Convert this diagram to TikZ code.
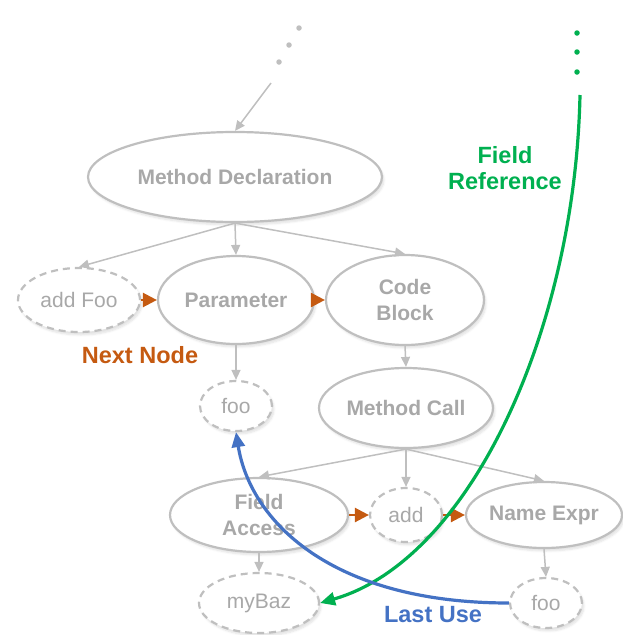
\documentclass[tikz,border=0pt]{standalone}
\usepackage{fontspec}
\setmainfont{Liberation Sans}
\usetikzlibrary{shapes.geometric,arrows.meta,shadows.blur}
\definecolor{edgegray}{HTML}{BFBFBF}
\definecolor{textgray}{HTML}{A8A8A8}
\definecolor{nextorange}{HTML}{C55A11}
\definecolor{refgreen}{HTML}{00B050}
\definecolor{useblue}{HTML}{4472C4}
\tikzset{
  astnode/.style={ellipse, draw=edgegray, line width=2.2pt, fill=white,
    text=textgray, inner sep=0pt, align=center,
    font=\fontsize{21}{26}\selectfont\bfseries,
    blur shadow={shadow blur steps=6, shadow opacity=12, shadow xshift=2pt, shadow yshift=-3pt}},
  tokennode/.style={astnode, dashed, dash pattern=on 7pt off 5pt,
    font=\fontsize{21}{26}\selectfont},
  child/.style={draw=edgegray, line width=1.5pt,
    -{Triangle[length=10pt,width=9pt]}},
  nextedge/.style={draw=nextorange, line width=2.4pt,
    -{Triangle[length=14pt,width=14pt]}},
  refedge/.style={draw=refgreen, line width=3.2pt,
    -{Triangle[length=15pt,width=13pt]}},
  useedge/.style={draw=useblue, line width=3.2pt,
    -{Triangle[length=15pt,width=13pt]}},
  tag/.style={font=\fontsize{23.5}{26}\selectfont\bfseries, align=center, inner sep=0pt},
  dot/.style={circle, inner sep=0pt, minimum size=5.5pt},
}
\begin{document}
\begin{tikzpicture}[x=1pt,y=-1pt]
\useasboundingbox (0,0) rectangle (623,635);

% syntax tree nodes
\node[astnode, minimum width=294pt, minimum height=90pt] (md) at (235,177) {Method Declaration};
\node[tokennode, minimum width=122pt, minimum height=64pt] (af) at (79,300) {add Foo};
\node[astnode, minimum width=156pt, minimum height=88pt] (par) at (236,300) {Parameter};
\node[astnode, minimum width=158pt, minimum height=90pt] (cb) at (405,300) {Code\\Block};
\node[tokennode, minimum width=72pt, minimum height=50pt] (foo) at (236,406) {foo};
\node[astnode, minimum width=174pt, minimum height=80pt] (mc) at (406,408) {Method Call};
\node[astnode, minimum width=178pt, minimum height=74pt] (fa) at (259,515) {Field\\Access};
\node[tokennode, minimum width=72pt, minimum height=54pt] (add) at (406,515) {add};
\node[astnode, minimum width=156pt, minimum height=66pt] (ne) at (544,515) {Name Expr};
\node[tokennode, minimum width=120pt, minimum height=60pt] (mb) at (259,603) {myBaz};
\node[tokennode, minimum width=72pt, minimum height=50pt] (foo2) at (546,603) {foo};

% elided ancestors
\node[dot, fill=edgegray] (g1) at (299,28) {};
\node[dot, fill=edgegray] (g2) at (289,45) {};
\node[dot, fill=edgegray] (g3) at (279,62) {};
\coordinate (up) at (271,83);
\node[dot, fill=refgreen] (r1) at (577,33) {};
\node[dot, fill=refgreen] (r2) at (577,52) {};
\node[dot, fill=refgreen] (r3) at (577,72) {};
\coordinate (refstart) at (580,95);

% child edges
\draw[child] (up) -- (md.north);
\draw[child] (md.south) -- (af.north);
\draw[child] (md.south) -- (par.north);
\draw[child] (md.south) -- (cb.north);
\draw[child] (par.south) -- (foo.north);
\draw[child] (cb.south) -- (mc.north);
\draw[child] (mc.south) -- (fa.north);
\draw[child] (mc.south) -- (add.north);
\draw[child] (mc.south) -- (ne.north);
\draw[child] (fa.south) -- (mb.north);
\draw[child] (ne.south) -- (foo2.north);

% next-node edges
\draw[nextedge] (af.east) -- (par.west);
\draw[nextedge] (par.east) -- (cb.west);
\draw[nextedge] (fa.east) -- (add.west);
\draw[nextedge] (add.east) -- (ne.west);

% data-flow edges
\draw[refedge] (refstart) .. controls (575,330) and (470,560) .. (mb.east);
\draw[useedge] (foo2.west) .. controls (330,603) and (250,520) .. (foo.south);

% edge labels
\node[tag, text=nextorange] (lnext) at (140,355) {Next Node};
\node[tag, text=refgreen] (lref) at (505,168) {Field\\Reference};
\node[tag, text=useblue] (luse) at (433,615) {Last Use};
\end{tikzpicture}
\end{document}
